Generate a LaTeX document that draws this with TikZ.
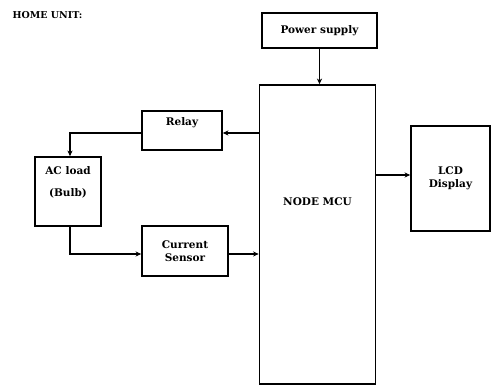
\documentclass[tikz,border=0pt]{standalone}
\usepackage{fontspec}
\setmainfont{DejaVu Serif}
\usepackage{tikz}
\usetikzlibrary{arrows.meta}
\usepackage{xcolor}
\begin{document}
\begin{tikzpicture}[x=1pt,y=-1pt,>={Stealth[length=2mm,width=1.8mm]},
  font=\fontsize{10.5}{13}\selectfont\bfseries,line cap=round,
  blk/.style={draw,line width=1.6pt,inner sep=0pt},
  lnk/.style={->,line width=1.4pt}]
\useasboundingbox (0,0) rectangle (491,385);
\node[anchor=west,font=\fontsize{9.5}{11}\selectfont\bfseries] (title) at (9,15) {HOME UNIT:};
\node[blk,minimum width=115pt,minimum height=35pt] (power) at (319.5,30.5) {Power supply};
\node[blk,minimum width=116pt,minimum height=299pt] (mcu) at (317.5,234.5) {};
\node (mcutxt) at (317.5,202) {NODE MCU};
\node[blk,minimum width=79pt,minimum height=105pt,align=center] (lcd) at (450.5,178.5) {LCD\\Display};
\node[blk,minimum width=80pt,minimum height=39pt] (relay) at (182,130.5) {};
\node (relaytxt) at (182,123) {Relay};
\node[blk,minimum width=66pt,minimum height=69pt] (acload) at (68,191.5) {};
\node[align=center] (acloadtxt) at (68,182.5) {AC load\\[9pt](Bulb)};
\node[blk,minimum width=86pt,minimum height=50pt,align=center] (sensor) at (185,251) {Current\\Sensor};
\draw[lnk] (power.south) -- (power.south |- mcu.north);
\draw[lnk] (mcu.west |- 0,133) -- (relay.east |- 0,133);
\draw[lnk] (relay.west |- 0,133) -| (70,0 |- acload.north);
\draw[lnk] (70,0 |- acload.south) |- (sensor.west |- 0,254);
\draw[lnk] (sensor.east |- 0,254) -- (mcu.west |- 0,254);
\draw[lnk] (mcu.east |- 0,175) -- (lcd.west |- 0,175);
\end{tikzpicture}
\end{document}
